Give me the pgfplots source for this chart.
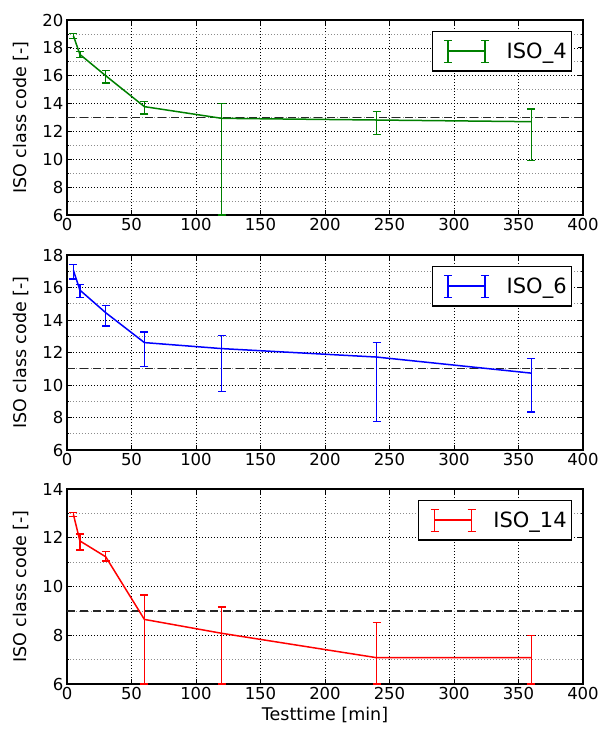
\documentclass[border=0pt]{standalone}
\usepackage{fontspec}
\setmainfont{DejaVu Sans}
\usepackage{pgfplots}
\pgfplotsset{compat=1.18}
\usepackage{pgfplotstable}

\definecolor{mplgreen}{rgb}{0,0.5,0}
\definecolor{mplblue}{rgb}{0,0,1}
\definecolor{mplred}{rgb}{1,0,0}

\pgfplotstableread{
x y ep em
5 18.86 0.18 0.18
10 17.53 0.19 0.21
30 16.0 0.38 0.53
60 13.78 0.35 0.53
120 12.94 1.06 6.94
240 12.82 0.60 1.03
360 12.70 0.91 2.80
}\isofour

\pgfplotstableread{
x y ep em
5 17.05 0.37 0.53
10 15.84 0.35 0.45
30 14.45 0.46 0.81
60 12.61 0.66 1.46
120 12.24 0.82 2.64
240 11.72 0.91 3.97
360 10.73 0.89 2.40
}\isosix

\pgfplotstableread{
x y ep em
5 12.95 0.08 0.09
10 11.87 0.28 0.37
30 11.22 0.22 0.17
60 8.65 1.00 2.65
120 8.08 1.08 2.08
240 7.08 1.44 1.08
360 7.08 0.90 1.08
}\isofourteen

\pgfplotsset{
  myaxis/.style={
    scale only axis, width=516pt, height=195pt,
    anchor=south west,
    xmin=0, xmax=400, xtick={0,50,...,400},
    tick align=inside,
    major tick length=5pt, minor tick length=2.5pt,
    minor y tick num=1,
    xmajorgrids, ymajorgrids, yminorgrids,
    major grid style={black, line width=0.6pt, dash pattern=on 0.8pt off 2.2pt},
    minor grid style={black!45, line width=0.6pt, dash pattern=on 0.8pt off 2.2pt},
    axis line style={line width=1.1pt},
    every tick/.style={black, line width=0.8pt},
    ticklabel style={font=\fontsize{16.5}{19}\selectfont},
    label style={font=\fontsize{17.5}{21}\selectfont},
    /pgf/number format/assume math mode=true,
    ylabel={ISO class code [-]},
    ylabel style={at={(axis description cs:-0.089,0.5)}, anchor=center},
    clip=false,
    legend cell align=left,
    legend style={at={(0.979,0.944)}, anchor=north east, draw=black,
      line width=1.1pt, fill=white, font=\fontsize{21}{25}\selectfont,
      inner xsep=3pt, inner ysep=7pt},
    legend image code/.code={
      \path (-12pt,-12pt) (56pt,12pt);
      \draw[#1, line width=1.5pt] (0pt,0pt) -- (37pt,0pt);
      \draw[#1, line width=1.3pt] (0pt,-11pt) -- (0pt,11pt)
        (-4pt,-11pt) -- (4pt,-11pt) (-4pt,11pt) -- (4pt,11pt)
        (37pt,-11pt) -- (37pt,11pt)
        (33pt,-11pt) -- (41pt,-11pt) (33pt,11pt) -- (41pt,11pt);
    },
  },
  ebars/.style={
    error bars/y dir=both, error bars/y explicit,
    error bars/error bar style={draw=#1, line width=1.4pt, solid},
    error bars/error mark options={draw=#1, rotate=90, mark size=4pt, line width=1.3pt},
  },
}

\begin{document}
\begin{tikzpicture}
\useasboundingbox (0,0) rectangle (601pt,-734pt);

\begin{axis}[myaxis, at={(67pt,-215pt)}, ymin=6, ymax=20, ytick={6,8,...,20}]
\addplot[black!85, line width=1.3pt, dash pattern=on 8pt off 5pt, forget plot] coordinates {(0,13) (400,13)};
\addplot[mplgreen, line width=1.5pt, mark=none, ebars=mplgreen]
  table[x=x, y=y, y error plus=ep, y error minus=em] {\isofour};
\addlegendentry{ISO\_4}
\end{axis}

\begin{axis}[myaxis, at={(67pt,-450pt)}, ymin=6, ymax=18, ytick={6,8,...,18}]
\addplot[black!85, line width=1.3pt, dash pattern=on 8pt off 5pt, forget plot] coordinates {(0,11) (400,11)};
\addplot[mplblue, line width=1.5pt, mark=none, ebars=mplblue]
  table[x=x, y=y, y error plus=ep, y error minus=em] {\isosix};
\addlegendentry{ISO\_6}
\end{axis}

\begin{axis}[myaxis, at={(67pt,-684pt)}, ymin=6, ymax=14, ytick={6,8,...,14},
  xlabel={Testtime [min]}]
\addplot[black!85, line width=1.3pt, dash pattern=on 8pt off 5pt, forget plot] coordinates {(0,9) (400,9)};
\addplot[mplred, line width=1.5pt, mark=none, ebars=mplred]
  table[x=x, y=y, y error plus=ep, y error minus=em] {\isofourteen};
\addlegendentry{ISO\_14}
\end{axis}
\end{tikzpicture}
\end{document}
